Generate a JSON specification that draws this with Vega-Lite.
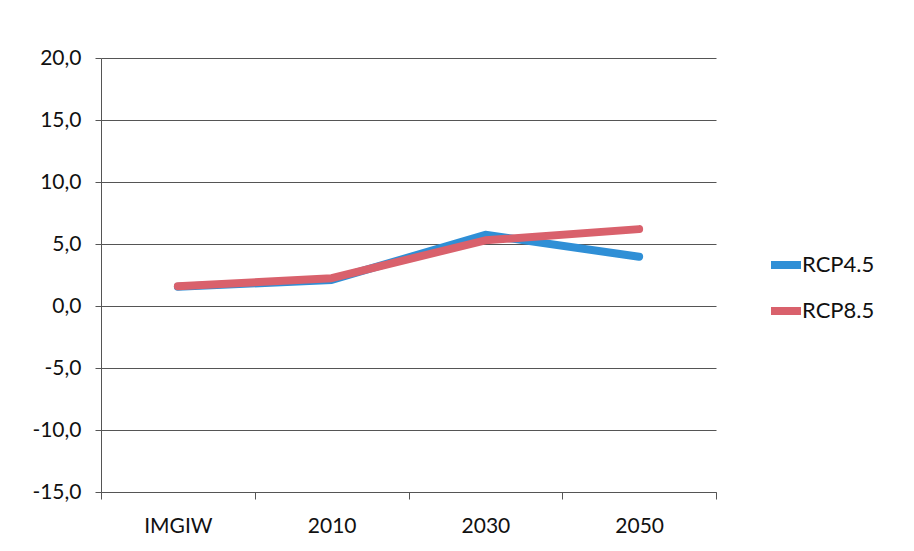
{
  "$schema": "https://vega.github.io/schema/vega-lite/v6.json",
  "width": 615,
  "height": 434,
  "autosize": "none",
  "padding": {"left": 101, "top": 58, "right": 198, "bottom": 59},
  "background": "white",
  "config": {
    "font": "Lato",
    "view": {"stroke": null},
    "axis": {"labelFont": "Lato", "labelColor": "#111", "labelFontSize": 21}
  },
  "data": {
    "values": [
      {"cat": "IMGIW", "series": "RCP4.5", "v": 1.55},
      {"cat": "2010", "series": "RCP4.5", "v": 2.1},
      {"cat": "2030", "series": "RCP4.5", "v": 5.74},
      {"cat": "2050", "series": "RCP4.5", "v": 3.97},
      {"cat": "IMGIW", "series": "RCP8.5", "v": 1.59},
      {"cat": "2010", "series": "RCP8.5", "v": 2.24},
      {"cat": "2030", "series": "RCP8.5", "v": 5.3},
      {"cat": "2050", "series": "RCP8.5", "v": 6.2}
    ]
  },
  "mark": {"type": "line", "strokeWidth": 8, "strokeCap": "round", "strokeJoin": "round"},
  "encoding": {
    "x": {
      "field": "cat", "type": "nominal", "sort": ["IMGIW", "2010", "2030", "2050"],
      "scale": {"paddingInner": 0, "paddingOuter": 0},
      "axis": {"title": null, "labelAngle": 0, "grid": false, "domainColor": "#555", "tickColor": "#555", "tickBand": "extent", "tickSize": 7, "labelPadding": 16}
    },
    "y": {
      "field": "v", "type": "quantitative",
      "scale": {"domain": [-15, 20]},
      "axis": {"title": null, "values": [-15, -10, -5, 0, 5, 10, 15, 20], "labelExpr": "replace(replace(format(datum.value, '.1f'), '.', ','), '\u2212', '-')", "gridColor": "#555", "gridOpacity": 1, "domainColor": "#555", "tickColor": "#555", "tickSize": 6, "labelPadding": 14}
    },
    "color": {
      "field": "series", "type": "nominal",
      "scale": {"domain": ["RCP4.5", "RCP8.5"], "range": ["#2f8fd6", "#d9616c"]},
      "legend": {
        "title": null, "orient": "none", "legendX": 666, "legendY": 188,
        "symbolType": "stroke", "symbolSize": 900, "symbolStrokeWidth": 8,
        "labelFontSize": 22, "labelFont": "Lato", "labelColor": "#111", "labelOffset": -3, "rowPadding": 11
      }
    },
    "order": {"field": "series"}
  }
}
